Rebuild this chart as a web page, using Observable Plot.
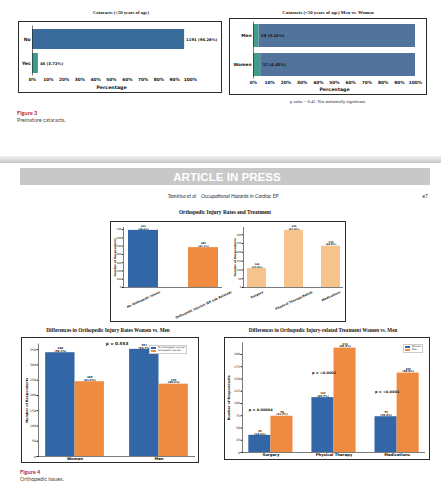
<!DOCTYPE html>
<html><head><meta charset="utf-8">
<script src="https://cdn.jsdelivr.net/npm/d3@7"></script>
<script src="https://cdn.jsdelivr.net/npm/@observablehq/plot@0.6"></script>
<style>
body{margin:0;background:#fff;}
#page{position:relative;width:441px;height:500px;overflow:hidden;background:#fff;}
.t{position:absolute;white-space:nowrap;line-height:1;}
.box{position:absolute;box-sizing:border-box;}
.leg{position:absolute;box-sizing:border-box;background:#fff;border:0.4px solid #ccc;font-family:"DejaVu Sans",sans-serif;color:#222;line-height:1;padding:0.8px 1.2px;}
.leg div{display:flex;align-items:center;white-space:nowrap;}
.leg span.sw{display:inline-block;margin-right:1.5px;}
</style></head>
<body><div id="page"></div>
<script>
// ---------- data ----------
const cataractCats = ["No", "Yes"];
const cataractCounts = [1191, 46];
const cataractPct = [96.28, 3.72];

const sexCataractCats = ["Men", "Women"];
const sexCataractCounts = [29, 17];
const sexCataractPct = [3.42, 4.45];

const pctTicks = [0, 10, 20, 30, 40, 50, 60, 70, 80, 90, 100];

const injuryCats = ["No Orthopedic Issues", "Orthopedic Injuries (EP Lab Related)"];
const injuryTotals = [691, 482];
const injuryTotalPct = [58.9, 41.1];
const injuryTicks = [0, 100, 200, 300, 400, 500, 600, 700];

const treatmentCats = ["Surgery", "Physical Therapy/Rehab", "Medications"];
const treatmentTotals = [109, 325, 235];
const treatmentTotalPct = [22.6, 67.4, 48.8];
const treatmentTicks = [0, 50, 100, 150, 200, 250, 300];

const sexes = ["Women", "Men"];
const noInjury = [340, 351];
const noInjuryPct = [58.1, 59.7];
const injury = [245, 237];
const injuryPct = [41.9, 40.3];
const sexTicks = [0, 50, 100, 150, 200, 250, 300, 350];

const treatmentShort = ["Surgery", "Physical Therapy", "Medications"];
const treatWomen = [35, 112, 73];
const treatWomenPct = [14.3, 45.7, 29.8];
const treatMen = [74, 213, 162];
const treatMenPct = [31.2, 89.9, 68.4];
const treatP = ["p = 0.00004", "p = <0.0001", "p = <0.0001"];
const treatTicks = [0, 25, 50, 75, 100, 125, 150, 175, 200];

// ---------- styles ----------
const blue = "#3366a6", orange = "#ee8b41", lightOrange = "#f6c38c";
const catBlue = "#3a6c9b", catTeal = "#3d9a8c", catBlue2 = "#52739b", catTeal2 = "#3f9f8b";
const sans = "'DejaVu Sans', sans-serif";
const page = document.getElementById("page");

function txt(s, x, y, style, anchor = "middle") {
  const d = document.createElement("div");
  d.className = "t";
  d.textContent = s;
  d.style.left = x + "px"; d.style.top = y + "px";
  d.style.transform = `translate(${anchor === "middle" ? "-50%" : anchor === "end" ? "-100%" : "0"},-50%)`;
  Object.assign(d.style, style);
  page.appendChild(d);
  return d;
}
function box(l, t, w, h, css) {
  const d = document.createElement("div");
  d.className = "box";
  Object.assign(d.style, {left: l + "px", top: t + "px", width: w + "px", height: h + "px"}, css);
  page.appendChild(d);
  return d;
}
function put(svg, l, t) {
  svg.style.position = "absolute";
  svg.style.left = l + "px"; svg.style.top = t + "px";
  page.appendChild(svg);
}
function legend(l, t, items, fs) {
  const d = document.createElement("div");
  d.className = "leg";
  d.style.left = l + "px"; d.style.top = t + "px"; d.style.fontSize = fs + "px";
  for (const [label, color] of items) {
    const r = document.createElement("div");
    r.innerHTML = `<span class="sw" style="width:${fs * 2.2}px;height:${fs * 0.8}px;background:${color}"></span>${label}`;
    r.style.margin = "0.5px 0";
    d.appendChild(r);
  }
  page.appendChild(d);
}
const ctx = document.createElement("canvas").getContext("2d");
function tw(s, size) { ctx.font = `bold 100px "DejaVu Sans"`; return ctx.measureText(s).width * size / 100; }
function slanted(cats, size, angle, pad) {
  const r = angle * Math.PI / 180;
  return cats.map(c => {
    const L = tw(c, size);
    const H = L * Math.sin(r) + size * Math.cos(r);
    return Plot.text([c], {x: d => d, frameAnchor: "bottom", rotate: -angle, textAnchor: "middle",
      lineAnchor: "middle", dy: pad + H / 2, fontSize: size, fill: "#111"});
  });
}
const base = {background: "transparent", overflow: "visible", fontFamily: sans, fontWeight: "bold", color: "#111"};
const spine = {stroke: "#222", strokeWidth: 0.6};

// ---------- Figure 3 ----------
const titleStyle = fs => ({fontFamily: "'Liberation Serif', serif", fontWeight: "bold", fontSize: fs + "px", color: "#111"});
txt("Cataracts (<50 years of age)", 121, 12.5, titleStyle(4.7));
txt("Cataracts (<50 years of age) Men vs. Women", 328, 12.5, titleStyle(4.8));

box(18, 21, 204, 72, {border: "1.4px solid #2a2a2a"});
box(229, 18, 198, 77, {border: "1.4px solid #2a2a2a"});

const cataractData = cataractCats.map((c, i) => ({cat: c, count: cataractCounts[i], pct: cataractPct[i]}));
put(Plot.plot({
  width: 202, height: 70, marginLeft: 13, marginRight: 31, marginTop: 3.5, marginBottom: 16.5,
  style: {...base, fontSize: "4.2px"},
  x: {domain: [0, 100], label: null},
  y: {domain: cataractCats, paddingInner: 0.18, paddingOuter: 0.1, label: null},
  color: {domain: cataractCats, range: [catBlue, catTeal]},
  marks: [
    Plot.barX(cataractData, {y: "cat", x: "pct", fill: "cat"}),
    Plot.ruleX([0], spine),
    Plot.text(cataractData, {y: "cat", x: "pct", text: d => `${d.count} (${d.pct.toFixed(2)}%)`, textAnchor: "start", dx: 1.5, fontSize: 3.8, fill: "#111"}),
    Plot.axisX({ticks: pctTicks, tickFormat: d => d + "%", tickSize: 0, tickPadding: 2, fontSize: 4.3}),
    Plot.axisY({tickSize: 0, tickPadding: 2, fontSize: 4.5}),
    Plot.text(["Percentage"], {frameAnchor: "bottom", lineAnchor: "middle", textAnchor: "middle", dy: 11.5, fontSize: 4.7, fill: "#111"})
  ]
}), 19, 22);

const sexCatData = sexCataractCats.map((c, i) => ({cat: c, count: sexCataractCounts[i], pct: sexCataractPct[i]}));
put(Plot.plot({
  width: 196, height: 75, marginLeft: 23, marginRight: 11, marginTop: 2.5, marginBottom: 15.5,
  style: {...base, fontSize: "4.2px"},
  x: {domain: [0, 100], label: null},
  y: {domain: sexCataractCats, paddingInner: 0.2, paddingOuter: 0.05, label: null},
  marks: [
    Plot.barX(sexCatData, {y: "cat", x1: 0, x2: "pct", fill: catTeal2}),
    Plot.barX(sexCatData, {y: "cat", x1: "pct", x2: 100, fill: catBlue2}),
    Plot.ruleX([0], spine),
    Plot.text(sexCatData, {y: "cat", x: "pct", text: d => `${d.count} (${d.pct.toFixed(2)}%)`, textAnchor: "start", dx: 2, fontSize: 3.8, fill: "#111"}),
    Plot.axisX({ticks: pctTicks, tickFormat: d => d + "%", tickSize: 0, tickPadding: 2, fontSize: 4.3}),
    Plot.axisY({tickSize: 0, tickPadding: 2, fontSize: 4.3}),
    Plot.text(["Percentage"], {frameAnchor: "bottom", lineAnchor: "middle", textAnchor: "middle", dy: 10.5, fontSize: 4.7, fill: "#111"})
  ]
}), 230, 19);

txt("p value = 0.41. Not statistically significant.", 328, 102, {fontFamily: "'Liberation Serif', serif", fontSize: "4.4px", color: "#222"});
txt("Figure 3", 17, 113, {fontFamily: "Lato, sans-serif", fontWeight: "bold", fontSize: "5.6px", color: "#b2263b"}, "start");
txt("Premature cataracts.", 17, 121, {fontFamily: "Lato, sans-serif", fontSize: "5.4px", color: "#444"}, "start");

// ---------- page break / header ----------
box(0, 156, 441, 7, {background: "linear-gradient(#f4f4f4, #c6c6c6)"});
box(20, 168, 410, 17, {background: "#c8c8c8"});
txt("ARTICLE IN PRESS", 227, 177, {fontFamily: "'Liberation Sans', sans-serif", fontWeight: "bold", fontSize: "11.6px", color: "#fff"});
txt("Tamirisa et al    Occupational Hazards in Cardiac EP", 223, 197, {fontFamily: "Lato, sans-serif", fontStyle: "italic", fontSize: "5.2px", color: "#333", whiteSpace: "pre"});
txt("e7", 425, 197, {fontFamily: "Lato, sans-serif", fontSize: "5.2px", color: "#333"});
txt("Orthopedic Injury Rates and Treatment", 225, 213, titleStyle(5.4));

// ---------- Orthopedic overview ----------
box(110, 221, 236, 101, {border: "1px solid #2a2a2a"});

const injuryData = injuryCats.map((c, i) => ({cat: c, n: injuryTotals[i], pct: injuryTotalPct[i]}));
put(Plot.plot({
  width: 117, height: 99, marginLeft: 12, marginRight: 6, marginTop: 5, marginBottom: 34,
  style: {...base, fontSize: "2.6px"},
  x: {domain: injuryCats, paddingInner: 0.5, paddingOuter: 0.075, axis: null},
  y: {domain: [0, d3.max(injuryTotals) * 1.05], label: null},
  color: {domain: injuryCats, range: [blue, orange]},
  marks: [
    Plot.barY(injuryData, {x: "cat", y: "n", fill: "cat"}),
    Plot.ruleY([0], spine),
    Plot.frame({anchor: "left", ...spine}),
    Plot.axisY({ticks: injuryTicks, tickSize: 1.2, tickPadding: 0.8, fontSize: 2.6, fontWeight: "normal"}),
    Plot.text(injuryData, {x: "cat", y: "n", text: d => `${d.n}\n(${d.pct.toFixed(1)}%)`, lineAnchor: "bottom", dy: -0.8, fontSize: 2.4, fill: "#111"}),
    ...slanted(injuryCats, 3, 25, 3),
    Plot.text(["Number of Respondents"], {frameAnchor: "left", rotate: -90, textAnchor: "middle", lineAnchor: "middle", dx: -8, fontSize: 2.8, fill: "#111"})
  ]
}), 111, 222);

const treatmentData = treatmentCats.map((c, i) => ({cat: c, n: treatmentTotals[i], pct: treatmentTotalPct[i]}));
put(Plot.plot({
  width: 116, height: 99, marginLeft: 14, marginRight: 2, marginTop: 5, marginBottom: 34,
  style: {...base, fontSize: "2.6px"},
  x: {domain: treatmentCats, paddingInner: 0.5, paddingOuter: 0.1, axis: null},
  y: {domain: [0, d3.max(treatmentTotals) * 1.05], label: null},
  marks: [
    Plot.barY(treatmentData, {x: "cat", y: "n", fill: lightOrange}),
    Plot.ruleY([0], spine),
    Plot.frame({anchor: "left", ...spine}),
    Plot.axisY({ticks: treatmentTicks, tickSize: 1.2, tickPadding: 0.8, fontSize: 2.6, fontWeight: "normal"}),
    Plot.text(treatmentData, {x: "cat", y: "n", text: d => `${d.n}\n(${d.pct.toFixed(1)}%)`, lineAnchor: "bottom", dy: -0.8, fontSize: 2.4, fill: "#111"}),
    ...slanted(treatmentCats, 3, 25, 3),
    Plot.text(["Number of Respondents"], {frameAnchor: "left", rotate: -90, textAnchor: "middle", lineAnchor: "middle", dx: -8, fontSize: 2.8, fill: "#111"})
  ]
}), 229, 222);

// ---------- Women vs Men: injury rates ----------
txt("Differences in Orthopedic Injury Rates Women vs. Men", 108, 331, titleStyle(5.2));
box(21, 337, 178, 126, {border: "1.4px solid #2a2a2a"});
const sexData = sexes.map((s, i) => ({s, i, no: noInjury[i], noPct: noInjuryPct[i], inj: injury[i], injPct: injuryPct[i]}));
const bw = 0.35;
put(Plot.plot({
  width: 176, height: 124, marginLeft: 16, marginRight: 3, marginTop: 5.5, marginBottom: 6,
  style: {...base, fontSize: "3.2px"},
  x: {domain: [-0.435, 1.435], label: null},
  y: {domain: [0, d3.max([...noInjury, ...injury]) * 1.05], label: null},
  marks: [
    Plot.rectY(sexData, {x1: d => d.i - bw, x2: d => d.i, y1: 0, y2: "no", fill: blue}),
    Plot.rectY(sexData, {x1: d => d.i, x2: d => d.i + bw, y1: 0, y2: "inj", fill: orange}),
    Plot.ruleY([0], spine),
    Plot.frame({anchor: "left", ...spine}),
    Plot.axisY({ticks: sexTicks, tickSize: 1.5, tickPadding: 1, fontSize: 3.1, fontWeight: "normal"}),
    Plot.axisX({ticks: sexes.map((s, i) => i), tickFormat: i => sexes[i], tickSize: 0, tickPadding: 1.2, fontSize: 3.8}),
    Plot.text(sexData, {x: d => d.i - bw / 2, y: "no", text: d => `${d.no}\n(${d.noPct.toFixed(1)}%)`, lineAnchor: "bottom", dy: -0.8, fontSize: 2.7, fill: "#111"}),
    Plot.text(sexData, {x: d => d.i + bw / 2, y: "inj", text: d => `${d.inj}\n(${d.injPct.toFixed(1)}%)`, lineAnchor: "bottom", dy: -0.8, fontSize: 2.7, fill: "#111"}),
    Plot.text(["p = 0.553"], {frameAnchor: "top", textAnchor: "middle", lineAnchor: "middle", dy: 0, fontSize: 4.2, fill: "#111"}),
    Plot.text(["Number of Respondents"], {frameAnchor: "left", rotate: -90, textAnchor: "middle", lineAnchor: "middle", dx: -12, fontSize: 3.3, fill: "#111"})
  ]
}), 22, 338);
legend(149, 344.5, [["No Orthopedic Injuries", blue], ["Orthopedic Injuries", orange]], 2.4);

// ---------- Women vs Men: treatment ----------
txt("Differences in Orthopedic Injury-related Treatment Women vs. Men", 323, 331, titleStyle(5.1));
box(224, 337, 206, 123, {border: "1.4px solid #2a2a2a"});
const treatData = treatmentShort.map((c, i) => ({c, i, w: treatWomen[i], wPct: treatWomenPct[i], m: treatMen[i], mPct: treatMenPct[i], p: treatP[i]}));
put(Plot.plot({
  width: 204, height: 121, marginLeft: 17, marginRight: 4, marginTop: 4.4, marginBottom: 7,
  style: {...base, fontSize: "3.2px"},
  x: {domain: [-0.45, 2.45], label: null},
  y: {domain: [0, d3.max([...treatWomen, ...treatMen]) * 1.05], label: null},
  marks: [
    Plot.rectY(treatData, {x1: d => d.i - bw, x2: d => d.i, y1: 0, y2: "w", fill: blue}),
    Plot.rectY(treatData, {x1: d => d.i, x2: d => d.i + bw, y1: 0, y2: "m", fill: orange}),
    Plot.ruleY([0], spine),
    Plot.frame({anchor: "left", ...spine}),
    Plot.axisY({ticks: treatTicks, tickSize: 1.5, tickPadding: 1, fontSize: 3.1, fontWeight: "normal"}),
    Plot.axisX({ticks: treatmentShort.map((s, i) => i), tickFormat: i => treatmentShort[i], tickSize: 0, tickPadding: 1.2, fontSize: 3.8}),
    Plot.text(treatData, {x: d => d.i - bw / 2, y: "w", text: d => `${d.w}\n(${d.wPct.toFixed(1)}%)`, lineAnchor: "bottom", dy: -0.8, fontSize: 2.6, fill: "#111"}),
    Plot.text(treatData, {x: d => d.i + bw / 2, y: "m", text: d => `${d.m}\n(${d.mPct.toFixed(1)}%)`, lineAnchor: "bottom", dy: -0.8, fontSize: 2.6, fill: "#111"}),
    Plot.text(treatData, {x: d => d.i - bw, y: "w", text: "p", textAnchor: "start", lineAnchor: "middle", dy: -25, fontSize: 3.5, fill: "#111"}),
    Plot.text(["Number of Respondents"], {frameAnchor: "left", rotate: -90, textAnchor: "middle", lineAnchor: "middle", dx: -13.5, fontSize: 3.3, fill: "#111"})
  ]
}), 225, 338);
legend(403, 343.5, [["Women", blue], ["Men", orange]], 2.4);

txt("Figure 4", 20, 472, {fontFamily: "Lato, sans-serif", fontWeight: "bold", fontSize: "5.6px", color: "#b2263b"}, "start");
txt("Orthopedic issues.", 20, 480, {fontFamily: "Lato, sans-serif", fontSize: "5.4px", color: "#444"}, "start");
</script>
</body></html>
